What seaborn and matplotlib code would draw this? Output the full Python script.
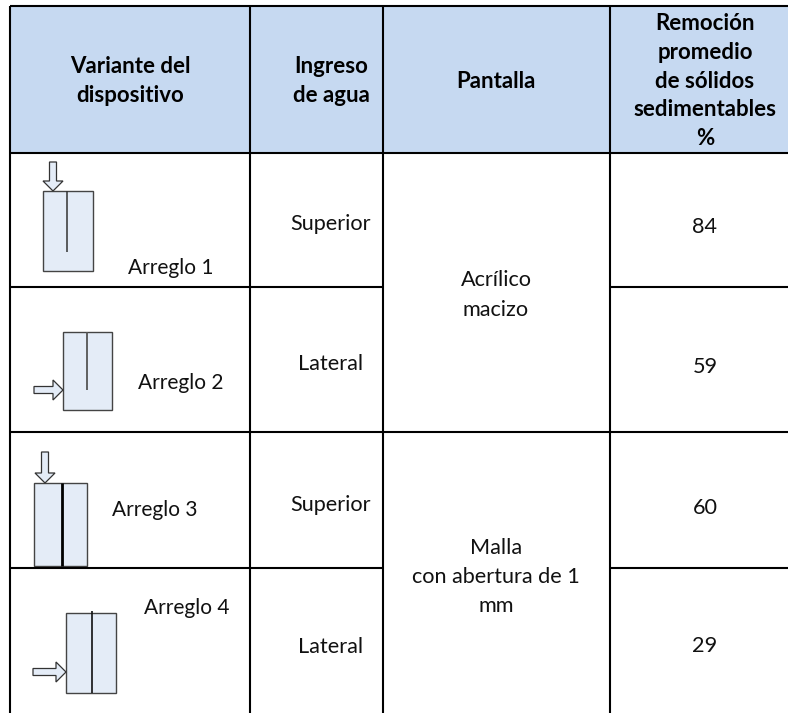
import pandas as pd
import matplotlib
matplotlib.use('Agg')
import matplotlib.pyplot as plt
from matplotlib.patches import FancyArrow, Rectangle
import seaborn as sns

W, H = 788, 713

# table content
headers = ['Variante del\ndispositivo', 'Ingreso\nde agua', 'Pantalla',
           'Remoción\npromedio\nde sólidos\nsedimentables\n%']
arreglos = ['Arreglo 1', 'Arreglo 2', 'Arreglo 3', 'Arreglo 4']
ingreso = ['Superior', 'Lateral', 'Superior', 'Lateral']
remocion = [84, 59, 60, 29]
pantallas = ['Acrílico\nmacizo', 'Malla\ncon abertura de 1\nmm']

# grid positions in pixels
col_x = [10, 250, 383, 610, 788]
row_y = [6, 153, 287, 432, 568, 713]
text_x = [130, 331, 496, 705]
row_text_y = [224, 364, 505, 647]
num_text_y = [227, 367, 508, 646]
pantalla_y = [295, 577]

sns.set_theme(style='white')
plt.rcParams['font.family'] = ['Lato', 'DejaVu Sans']

fig = plt.figure(figsize=(W / 100, H / 100), dpi=100)

# header band
hdr = fig.add_axes([col_x[0] / W, 1 - row_y[1] / H, (col_x[-1] - col_x[0]) / W, (row_y[1] - row_y[0]) / H])
sns.heatmap(pd.DataFrame([[1]]), ax=hdr, cbar=False, cmap=['#c6d9f1'], xticklabels=False, yticklabels=False)

ax = fig.add_axes([0, 0, 1, 1])
ax.set_xlim(0, W)
ax.set_ylim(H, 0)
ax.axis('off')

lw = 1.5
# horizontal lines
for y in [row_y[0], row_y[1], row_y[3]]:
    ax.plot([col_x[0], W], [y, y], color='black', lw=lw, solid_capstyle='butt')
# rows 1 and 3 do not cross the Pantalla column
for y in [row_y[2], row_y[4]]:
    ax.plot([col_x[0], col_x[2]], [y, y], color='black', lw=lw, solid_capstyle='butt')
    ax.plot([col_x[3], W], [y, y], color='black', lw=lw, solid_capstyle='butt')
# vertical lines, no border on the right side
for x in col_x[:-1]:
    ax.plot([x, x], [row_y[0], row_y[-1]], color='black', lw=lw, solid_capstyle='butt')

fs = 15.6
for i, h in enumerate(headers):
    ax.text(text_x[i], 81, h, ha='center', va='center', fontsize=16, fontweight='bold',
            linespacing=1.47, color='black')

for i in range(4):
    ax.text(text_x[1], row_text_y[i], ingreso[i], ha='center', va='center', fontsize=fs, color='#111111')
    ax.text(text_x[3], num_text_y[i], str(remocion[i]), ha='center', va='center', fontsize=fs, color='#111111')

for txt, y in zip(pantallas, pantalla_y):
    ax.text(text_x[2], y, txt, ha='center', va='center', fontsize=fs, linespacing=1.58, color='#111111')

# device sketches
boxes = [(43, 191, 93, 271), (63, 332, 112, 410), (34, 483, 87, 566), (66, 613, 116, 693)]
dividers = [(67, 191, 252, 1.1, '#333333'), (87, 332, 390, 1.3, '#555555'),
            (62, 483, 566, 2.0, '#000000'), (92, 611, 693, 1.2, '#111111')]
arrows = [(53, 162, 0, 29), (34, 390, 29, 0), (45, 452, 0, 31), (33, 672, 33, 0)]
label_pos = [(128, 268), (138, 383), (112, 510), (144, 608)]

for (x0, y0, x1, y1) in boxes:
    ax.add_patch(Rectangle((x0, y0), x1 - x0, y1 - y0, fc='#e4ecf7', ec='#444444', lw=1.0))
for (x, y0, y1, w, c) in dividers:
    ax.plot([x, x], [y0, y1], color=c, lw=w, solid_capstyle='butt')
for (x, y, dx, dy) in arrows:
    ax.add_patch(FancyArrow(x, y, dx, dy, width=7, head_width=20, head_length=10,
                            length_includes_head=True, fc='#e4ecf7', ec='#333333', lw=0.9))
for name, (x, y) in zip(arreglos, label_pos):
    ax.text(x, y, name, ha='left', va='center', fontsize=15, color='#111111')

fig.savefig('out.png', dpi=100)
